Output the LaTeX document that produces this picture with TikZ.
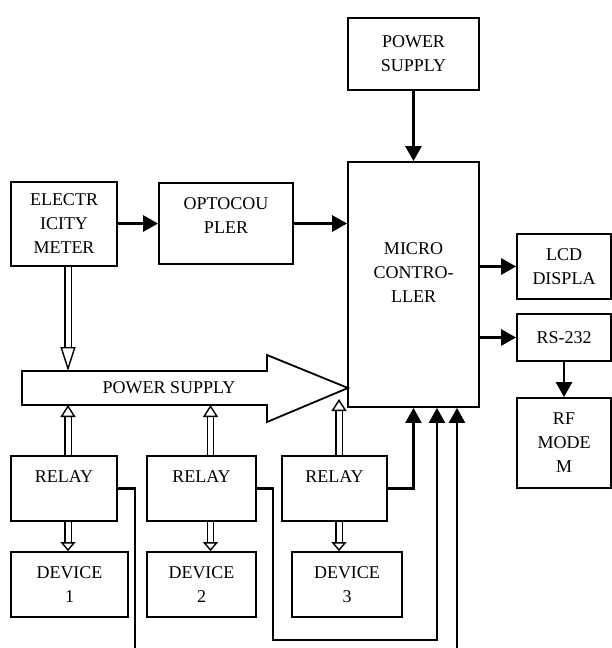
\documentclass[tikz,border=0pt]{standalone}
\usepackage{fontspec}
\setmainfont{Liberation Serif}
\usetikzlibrary{positioning,arrows.meta}

\begin{document}
\begin{tikzpicture}[
  x = 1pt, y = -1pt,
  every node/.style = {
    align = center,
    font = \fontsize{18}{24}\selectfont
  },
  block/.style = {
    draw, line width = 1.8pt,
    inner sep = 0pt
  },
  arr/.style = {
    line width = 2.8pt,
    -{Triangle[length=15pt, width=16pt]}
  },
  hollow/.style = {
    double, double distance = 5pt, line width = 1.4pt,
    -{Triangle[open, length=12pt, width=15pt, line width=1.4pt]}
  }
]
  \useasboundingbox (0,0) rectangle (612,648);

  % Knoten
  \node[block, minimum width=131pt, minimum height=72pt]  (ps)    at (413.5,54)    {POWER\\SUPPLY};
  \node[block, minimum width=131pt, minimum height=245pt] (mcu)   at (413.5,284.5) {MICRO\\CONTRO-\\LLER\\\mbox{}};
  \node[block, minimum width=106pt, minimum height=84pt]  (meter) at (64,224)      {ELECTR\\ICITY\\METER};
  \node[block, minimum width=134pt, minimum height=81pt]  (opto)  at (226,223.5)   {OPTOCOU\\PLER\\[-9pt]\mbox{}};
  \node[block, minimum width=94pt,  minimum height=65pt]  (lcd)   at (564,266.5)   {LCD\\DISPLA};
  \node[block, minimum width=94pt,  minimum height=47pt]  (rs)    at (564,337.5)   {RS-232};
  \node[block, minimum width=94pt,  minimum height=90pt]  (rf)    at (564,443)     {RF\\MODE\\M};

  \node[block, minimum width=106pt, minimum height=65pt]  (relay1) at (64,488.5)    {RELAY\\\mbox{}};
  \node[block, minimum width=109pt, minimum height=65pt]  (relay2) at (201.5,488.5) {RELAY\\\mbox{}};
  \node[block, minimum width=105pt, minimum height=65pt]  (relay3) at (334.5,488.5) {RELAY\\\mbox{}};
  \node[block, minimum width=117pt, minimum height=65pt]  (dev1)   at (69.5,584.5)  {DEVICE\\1};
  \node[block, minimum width=109pt, minimum height=65pt]  (dev2)   at (201.5,584.5) {DEVICE\\2};
  \node[block, minimum width=110pt, minimum height=65pt]  (dev3)   at (347,584.5)   {DEVICE\\3};

  % Versorgungspfeil
  \draw[line width=1.8pt, line join=miter]
    (22,371) -- (267,371) -- (267,355) -- (348,388)
    -- (267,422) -- (267,405) -- (22,405) -- cycle;
  \node (bus) at (169,388) {POWER SUPPLY};
  \coordinate (busN) at (144,371);
  \coordinate (busS) at (144,405);
  \coordinate (busH) at (339,399);

  % Kanten
  \draw[arr] (ps) -- (mcu);
  \draw[arr] (meter.east |- opto.west) -- (opto.west);
  \draw[arr] (opto.east) -- (opto.east -| mcu.west);
  \draw[arr] (mcu.east |- lcd.west) -- (lcd.west);
  \draw[arr] (mcu.east |- rs.west) -- (rs.west);
  \draw[arr] (rs) -- (rf);

  \draw[hollow, -{Triangle[open, length=24pt, width=15pt, line width=1.4pt]}]
    ([xshift=4pt]meter.south) -- ([xshift=4pt]meter.south |- busN);
  \draw[hollow] ([xshift=4pt]relay1.north) -- ([xshift=4pt]relay1.north |- busS);
  \draw[hollow] ([xshift=9pt]relay2.north) -- ([xshift=9pt]relay2.north |- busS);
  \draw[hollow] (relay3.north -| busH) -- (busH);
  \draw[hollow, -{Triangle[open, length=9pt, width=15pt, line width=1.4pt]}]
    ([xshift=4pt]relay1.south) -- ([xshift=4pt]relay1.south |- dev1.north);
  \draw[hollow, -{Triangle[open, length=9pt, width=15pt, line width=1.4pt]}]
    ([xshift=9pt]relay2.south) -- ([xshift=9pt]relay2.south |- dev2.north);
  \draw[hollow, -{Triangle[open, length=9pt, width=15pt, line width=1.4pt]}]
    (relay3.south -| busH) -- (busH |- dev3.north);

  % Leitungen zum Controller
  \coordinate (r1end) at (135,648);
  \coordinate (r2bend) at (273,640);
  \coordinate (ext) at (457,648);
  \draw[line width=2.2pt] (relay1.east) -| (r1end);
  \draw[arr, line width=2.2pt] (relay2.east) -| (r2bend) -| ([xshift=23.5pt]mcu.south);
  \draw[arr, line width=2.2pt] (relay3.east) -| (mcu.south);
  \draw[arr, line width=2.4pt] (ext) -- (ext |- mcu.south);
\end{tikzpicture}
\end{document}
